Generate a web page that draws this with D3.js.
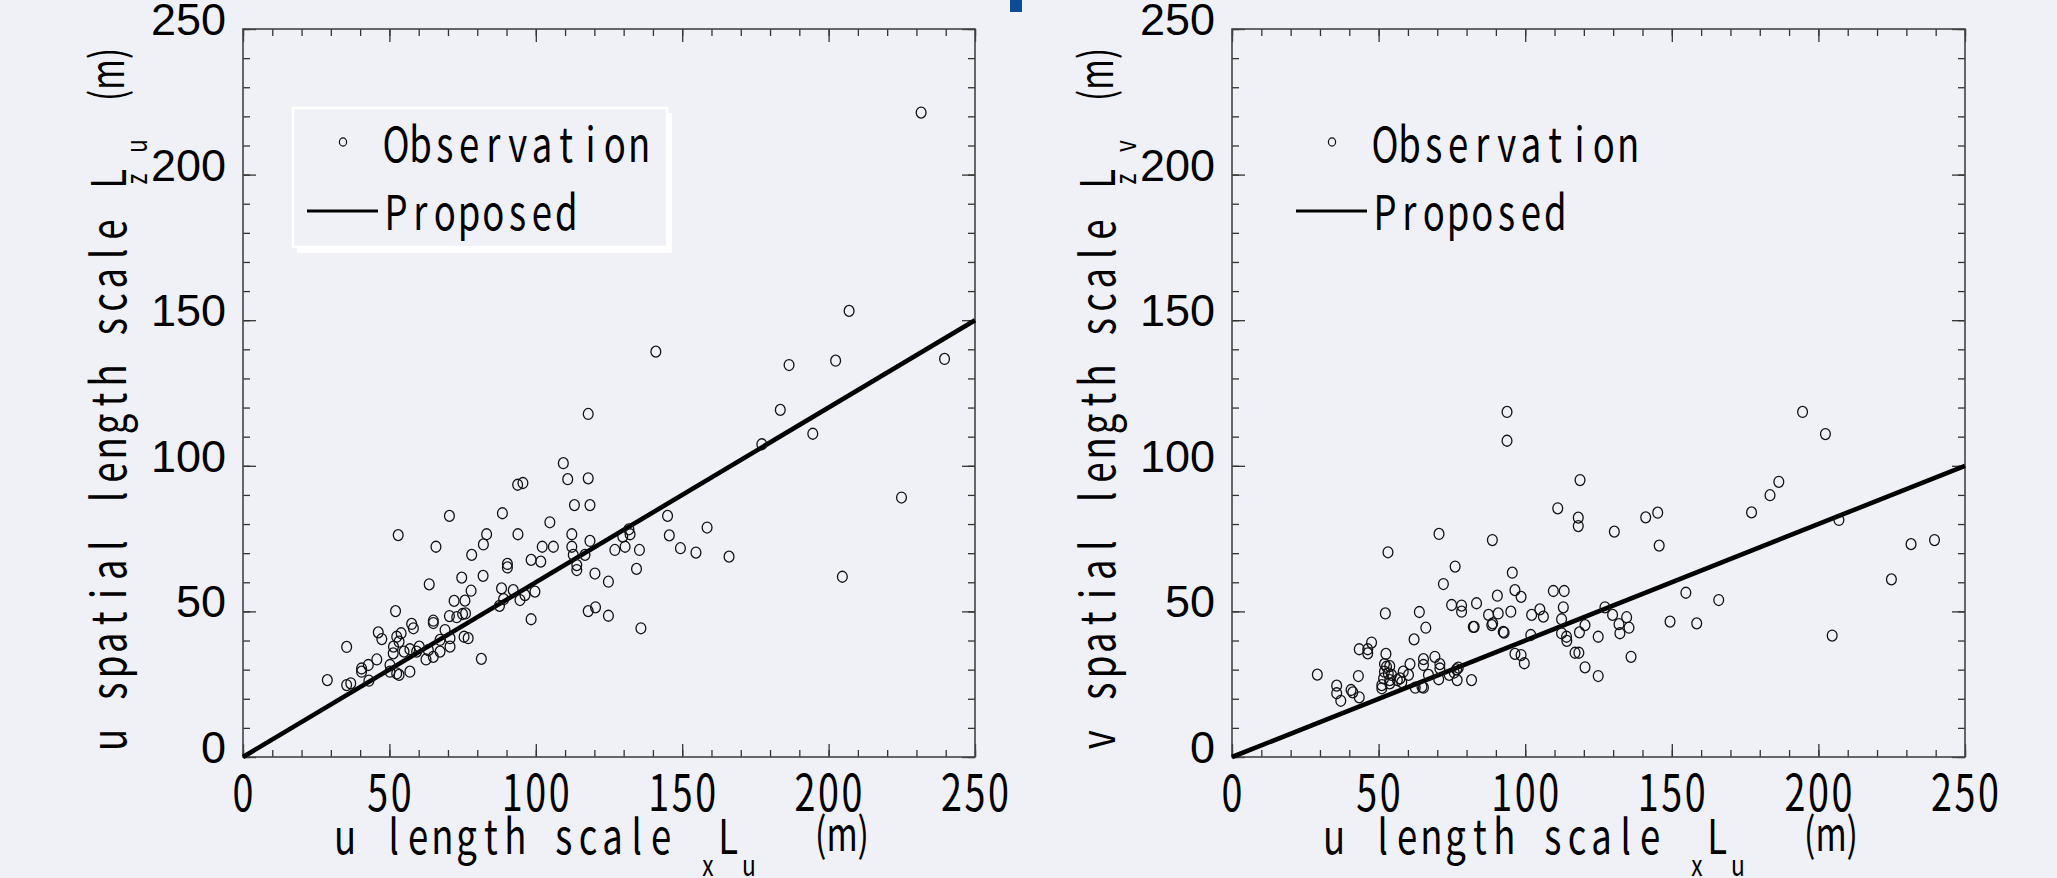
<!DOCTYPE html>
<html>
<head>
<meta charset="utf-8">
<script src="https://cdn.jsdelivr.net/npm/d3@7"></script>
<style>
  body { margin: 0; background: #f0f1f6; }
  svg { display: block; }
</style>
</head>
<body>
<svg id="chart" width="2057" height="878"></svg>
<script>
// observed points [L_x^u, L_z^u] (left panel)
const obsU = [
  [28.8,26.4],[35.4,37.8],[35.4,24.7],[36.8,25.3],[43.0,26.2],[40.5,29.3],[40.5,30.4],[42.8,31.6],[45.7,33.5],[46.2,42.8],
  [47.4,40.5],[52.1,50.1],[53.0,76.2],[50.2,31.6],[50.2,29.3],[52.5,28.7],[53.3,28.2],[51.3,35.6],[51.4,37.9],[52.5,41.3],
  [54.0,42.5],[53.3,39.6],[55.0,36.2],[57.0,29.3],[57.6,45.7],[58.2,44.2],[57.0,37.0],[60.2,37.9],[59.3,36.2],[62.5,33.5],
  [63.6,59.3],[65.0,46.8],[65.0,46.0],[63.3,36.7],[65.0,34.4],[65.9,72.2],[67.3,40.2],[67.3,36.2],[69.0,43.6],[70.7,40.8],
  [70.7,37.9],[70.5,48.4],[70.5,82.8],[72.1,53.6],[73.0,48.0],[74.7,61.6],[75.0,49.1],[75.8,53.7],[76.0,49.3],[75.5,41.3],
  [76.9,40.8],[78.1,69.4],[77.9,57.1],[81.4,33.7],[82.1,73.0],[83.2,76.5],[82.0,62.2],[88.6,83.7],[88.3,57.9],[87.6,51.9],
  [89.0,54.2],[90.3,66.3],[90.3,65.1],[92.3,57.3],[93.9,76.5],[94.6,53.9],[96.3,55.6],[98.4,67.7],[98.4,47.3],[99.7,56.8],
  [101.7,67.1],[102.2,72.2],[104.8,80.6],[106.0,72.2],[112.3,76.5],[112.3,72.2],[93.8,93.5],[95.6,94.1],
  [117.9,117.8],[109.4,100.9],[110.9,95.4],[117.9,95.7],[113.2,86.5],[118.5,86.5],[118.5,74.2],[112.8,69.4],[116.8,69.4],
  [114.0,65.9],[114.0,64.2],[120.2,63.0],[124.8,60.2],[117.9,50.1],[120.4,51.4],[124.8,48.5],[135.9,44.2],[127.0,71.1],
  [130.5,72.2],[129.7,75.7],[131.8,78.2],[132.2,76.5],[135.4,71.1],[134.4,64.6],[145.0,82.8],[145.6,76.1],[149.4,71.7],
  [154.7,70.2],[158.5,78.8],[166.0,68.8],
  [183.5,119.2],[177.2,107.4],[194.6,111.0],[224.9,89.1],[204.7,61.9],[231.6,221.3],[207.0,153.2],[202.4,136.1],
  [186.5,134.6],[239.6,136.7],[141.0,139.2]
]

// observed points [L_x^u, L_z^v] (right panel)
const obsV = [
  [29.1,28.3],[35.7,24.5],[35.7,21.9],[37.1,19.3],[40.6,23.0],[41.2,22.2],[43.4,20.5],[43.1,27.8],[43.4,37.0],[46.3,37.0],
  [46.3,35.6],[47.6,39.3],[53.2,70.3],[52.3,49.3],[52.5,35.4],[52.0,31.9],[52.7,31.0],[53.8,31.2],
  [52.0,29.3],[53.3,28.7],[54.4,28.2],[51.7,27.0],[53.8,26.4],[51.1,24.7],[51.1,23.6],[53.8,25.3],
  [56.4,26.4],[57.3,27.0],[57.9,25.7],[58.4,29.3],[60.2,28.2],[60.7,31.9],
  [62.1,40.4],[63.9,49.8],[66.1,44.4],[65.3,33.6],[65.3,31.6],[62.5,23.8],[64.8,24.1],[65.3,23.8],[67.0,28.2],[69.2,34.4],
  [70.9,31.9],[70.9,30.4],[70.5,26.7],[72.1,59.4],[74.9,52.2],[76.1,65.4],[78.3,52.0],[78.3,49.9],
  [74.1,28.2],[75.8,29.0],[76.6,30.1],[77.2,30.7],[76.8,26.4],[81.7,26.4],[82.3,44.7],[82.6,44.7],[83.4,52.8],[87.5,48.8],
  [88.6,45.3],[88.9,45.9],[90.5,55.4],[90.8,49.3],[92.5,43.0],[92.8,42.7],[95.1,49.9],[95.6,63.3],[96.5,35.4],[98.6,35.0],
  [99.7,32.2],[96.5,57.3],[98.6,55.0],[102.2,48.8],[101.9,41.9],[105.0,50.7],[106.2,48.2],[109.6,57.0],[88.8,74.5],
  [113.3,57.0],[113.0,51.4],[112.4,47.3],[112.4,42.5],[114.1,41.3],[114.2,39.9],[120.4,45.3],[118.5,42.8],[124.9,41.3],
  [127.2,51.4],[129.8,48.8],[132.0,45.6],[134.6,48.0],[135.4,44.4],[132.3,42.5],[136.1,34.4],[149.4,46.5],[154.8,56.4],
  [158.5,45.9],[166.0,53.9],[117.0,35.8],[118.3,35.8],[120.4,30.8],[124.9,27.8],[111.1,85.4],[118.1,82.2],[118.1,79.3],
  [118.7,95.1],[130.4,77.4],[141.1,82.3],[145.2,83.9],[145.7,72.6],
  [93.8,118.5],[93.8,108.6],[194.6,118.5],[202.4,110.9],[70.6,76.6],[177.2,84.0],[183.5,89.9],[186.5,94.5],[207.0,81.4],
  [239.6,74.5],[231.6,73.1],[224.9,61.0],[204.7,41.7]
]

// proposed relation (straight line through origin)
const lineX = [0, 250]
const lineU = [0, 150]
const lineV = [0, 100]

const majorTicks = [0, 50, 100, 150, 200, 250]
const minorTicks = d3.range(0, 251, 10)

const legendLabels = ["Observation", "Proposed"]
const xTitle = ["u length scale", "x", "L", "u", "(m)"]
const yTitles = [["u spatial length scale", "z", "L", "u", "(m)"],
                 ["v spatial length scale", "z", "L", "v", "(m)"]]

const MONO = "'Noto Sans CJK JP', 'Noto Sans', sans-serif"
const BG = "#f0f1f6"

const svg = d3.select("#chart")
svg.append("rect").attr("width", 2057).attr("height", 878).attr("fill", BG)

// small blue fragment at the top
svg.append("rect").attr("x", 1010).attr("y", 0).attr("width", 12).attr("height", 12).attr("fill", "#0b4c94")

const plotTop = 29, plotBottom = 757

// monospace-like text: each character centred in its own cell
function mono(g, str, x, y, o) {
  const sx = o.sx || 0.76, cell = o.cell || 24.3
  const t = g.append("text")
    .attr("transform", `translate(${x},${y})${o.rot ? " rotate(-90)" : ""} scale(${sx},1)`)
    .attr("font-family", MONO)
    .attr("font-size", o.size || 48)
    .attr("text-anchor", "middle")
    .attr("fill", "#000")
  str.split("").forEach((c, i) => {
    if (c === " ") return
    t.append("tspan").attr("x", (i + 0.5) * cell / sx).attr("y", 0).text(c)
  })
  return t
}

function addTicks(g, axisFn, scale, vals, len, tr) {
  g.append("g")
    .attr("transform", tr)
    .call(axisFn(scale).tickValues(vals).tickSize(-len).tickFormat(""))
    .call(a => a.select(".domain").remove())
    .selectAll("line").attr("stroke", "#333").attr("stroke-width", 1.3)
}

function panel(cfg) {
  const g = svg.append("g")
  const x = d3.scaleLinear().domain([0, 250]).range([cfg.left, cfg.right])
  const y = d3.scaleLinear().domain([0, 250]).range([plotBottom, plotTop])

  // ticks on all four sides, pointing inward
  ;[[minorTicks, 7], [majorTicks, 13]].forEach(([vals, len]) => {
    addTicks(g, d3.axisBottom, x, vals, len, `translate(0,${plotBottom})`)
    addTicks(g, d3.axisTop, x, vals, len, `translate(0,${plotTop})`)
    addTicks(g, d3.axisLeft, y, vals, len, `translate(${cfg.left},0)`)
    addTicks(g, d3.axisRight, y, vals, len, `translate(${cfg.right},0)`)
  })

  g.append("rect")
    .attr("x", cfg.left).attr("y", plotTop)
    .attr("width", cfg.right - cfg.left).attr("height", plotBottom - plotTop)
    .attr("fill", "none").attr("stroke", "#444").attr("stroke-width", 1.6)

  // proposed line
  const line = d3.line().x(d => x(d[0])).y(d => y(d[1]))
  g.append("path")
    .datum(lineX.map((v, i) => [v, cfg.line[i]]))
    .attr("d", line)
    .attr("fill", "none").attr("stroke", "#000").attr("stroke-width", 4.6)

  // observations (slightly tall ellipses, as in the original)
  g.selectAll("ellipse.obs").data(cfg.obs).enter().append("ellipse")
    .attr("class", "obs")
    .attr("cx", d => x(d[0])).attr("cy", d => y(d[1]))
    .attr("rx", 4.9).attr("ry", 5.5)
    .attr("fill", "none").attr("stroke", "#111").attr("stroke-width", 1.3)

  // tick labels
  majorTicks.forEach(v => {
    const s = String(v)
    mono(g, s, x(v) - s.length * 23.5 / 2, 811, { cell: 23.5, size: 51, sx: 0.74 })
    g.append("text")
      .attr("x", cfg.left - 17).attr("y", y(v) + 6)
      .attr("text-anchor", "end")
      .attr("font-family", "'Liberation Sans', Arial, sans-serif")
      .attr("font-size", 45)
      .attr("fill", "#000")
      .text(s)
  })

  // x title
  const xo = cfg.left - 243
  mono(g, xTitle[0], 333 + xo, 854, {})
  mono(g, xTitle[1], 700 + xo, 876, { cell: 16, size: 30 })
  mono(g, xTitle[2], 716 + xo, 854, {})
  mono(g, xTitle[3], 741 + xo, 876, { cell: 16, size: 30 })
  g.append("text")
    .attr("x", 815 + xo).attr("y", 851)
    .attr("font-family", MONO).attr("font-size", 46)
    .attr("textLength", 54).attr("lengthAdjust", "spacingAndGlyphs")
    .text(xTitle[4])

  // y title (rotated)
  const yt = cfg.yTitle
  const bx = cfg.left - 117
  mono(g, yt[0], bx, 752, { rot: true })
  mono(g, yt[2], bx, 752 - 561, { rot: true })
  mono(g, yt[1], bx + 21, 752 - 565, { rot: true, cell: 16, size: 30 })
  mono(g, yt[3], bx + 21, 752 - 598, { rot: true, cell: 16, size: 30 })
  g.append("text")
    .attr("transform", `translate(${bx - 2},${101}) rotate(-90)`)
    .attr("font-family", MONO).attr("font-size", 46)
    .attr("textLength", 53).attr("lengthAdjust", "spacingAndGlyphs")
    .text(yt[4])

  // legend
  const lg = g.append("g")
  if (cfg.box) {
    lg.append("rect").attr("x", 297).attr("y", 113).attr("width", 375).attr("height", 140).attr("fill", "#fff")
    lg.append("rect").attr("x", 293).attr("y", 108).attr("width", 374).attr("height", 139)
      .attr("fill", BG).attr("stroke", "#fff").attr("stroke-width", 2.5)
  }
  const lx = cfg.legendX
  lg.append("ellipse").attr("cx", lx - 43).attr("cy", 142).attr("rx", 3.6).attr("ry", 4.2)
    .attr("fill", "none").attr("stroke", "#111").attr("stroke-width", 1.2)
  mono(lg, legendLabels[0], lx - 2, 162, {})
  lg.append("line").attr("x1", lx - 79).attr("x2", lx - 8).attr("y1", 211).attr("y2", 211)
    .attr("stroke", "#000").attr("stroke-width", 3)
  mono(lg, legendLabels[1], lx - 2, 230, {})
}

panel({ left: 243, right: 975, obs: obsU, line: lineU, yTitle: yTitles[0], legendX: 386, box: true })
panel({ left: 1232, right: 1965, obs: obsV, line: lineV, yTitle: yTitles[1], legendX: 1375, box: false })
</script>
</body>
</html>
